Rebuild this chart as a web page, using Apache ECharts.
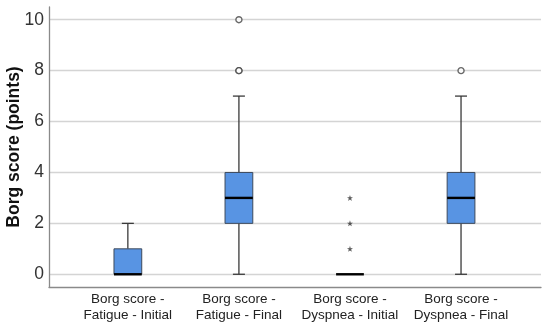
<!DOCTYPE html>
<html><head><meta charset="utf-8">
<script src="https://cdn.jsdelivr.net/npm/echarts@6/dist/echarts.min.js"></script>
<style>html,body{margin:0;padding:0;background:#fff}#c{width:550px;height:325px}</style>
</head><body><div id="c"></div>
<script>
const categories = ['Borg score -\nFatigue - Initial', 'Borg score -\nFatigue - Final', 'Borg score -\nDyspnea - Initial', 'Borg score -\nDyspnea - Final'];
// [min, Q1, median, Q3, max]
const boxValues = [
  [0, 0, 0, 1, 2],
  [0, 2, 3, 4, 7],
  [0, 0, 0, 0, 0],
  [0, 2, 3, 4, 7]
];
// outliers (circles): [categoryIndex, value]
const outliers = [[1, 8], [1, 8], [1, 10], [3, 8]];
// extremes (stars): [categoryIndex, value]
const extremes = [[2, 1], [2, 2], [2, 3]];
const yTicks = [0, 2, 4, 6, 8, 10];
const yTitle = 'Borg score (points)';

const chart = echarts.init(document.getElementById('c'), null, {renderer: 'canvas'});
const boxData = boxValues.map((v, i) => [i].concat(v));
const starPath = 'path://M50,0 L61.8,35.3 L97.6,34.5 L69,56 L79.4,90.5 L50,70 L20.6,90.5 L31,56 L2.4,34.5 L38.2,35.3 Z';

function renderBox(params, api) {
  const x = api.value(0);
  const mn = api.value(1), q1 = api.value(2), md = api.value(3), q3 = api.value(4), mx = api.value(5);
  const unit = api.size([1, 0])[0];
  const bw = unit * 0.25;
  const cw = 12;
  const c = api.coord([x, 0])[0];
  const y = v => api.coord([x, v])[1];
  const children = [];
  const wStyle = {stroke: '#3a3a3a', lineWidth: 1.3};
  if (mx > q3) {
    children.push({type: 'line', shape: {x1: c, y1: y(q3), x2: c, y2: y(mx)}, style: wStyle});
    children.push({type: 'line', shape: {x1: c - cw / 2, y1: y(mx), x2: c + cw / 2, y2: y(mx)}, style: wStyle});
  }
  if (mn < q1) {
    children.push({type: 'line', shape: {x1: c, y1: y(q1), x2: c, y2: y(mn)}, style: wStyle});
    children.push({type: 'line', shape: {x1: c - cw / 2, y1: y(mn), x2: c + cw / 2, y2: y(mn)}, style: wStyle});
  }
  if (q3 > q1) {
    children.push({type: 'rect', shape: {x: c - bw / 2, y: y(q3), width: bw, height: y(q1) - y(q3)},
      style: {fill: '#5894e3', stroke: '#3d4a5c', lineWidth: 1}});
  }
  children.push({type: 'line', shape: {x1: c - bw / 2, y1: y(md), x2: c + bw / 2, y2: y(md)},
    style: {stroke: '#000', lineWidth: 2.4}});
  return {type: 'group', children: children};
}

chart.setOption({
  animation: false,
  grid: {left: 49, right: 9, top: 7, bottom: 38, outerBoundsMode: 'none', containLabel: false},
  xAxis: {
    type: 'value', min: -0.71, max: 3.72,
    axisLine: {show: true, onZero: false, lineStyle: {color: '#8a8a8a', width: 1.3}},
    axisTick: {show: false},
    splitLine: {show: false},
    axisLabel: {
      customValues: [0, 1, 2, 3],
      formatter: v => categories[Math.round(v)] || '',
      fontFamily: 'Liberation Sans, Arial, sans-serif', fontSize: 13.5, color: '#222',
      lineHeight: 15.5, margin: 5
    }
  },
  yAxis: {
    type: 'value', min: -0.5, max: 10.5,
    name: yTitle, nameLocation: 'middle', nameGap: 26, nameMoveOverlap: false,
    nameTextStyle: {fontFamily: 'Liberation Sans, Arial, sans-serif', fontSize: 17.5, fontWeight: 'bold', color: '#111'},
    axisLine: {show: true, onZero: false, lineStyle: {color: '#8a8a8a', width: 1.3}},
    axisTick: {show: false, customValues: yTicks},
    axisLabel: {customValues: yTicks, fontFamily: 'Liberation Sans, Arial, sans-serif', fontSize: 17.5, color: '#333', margin: 5},
    splitLine: {show: true, lineStyle: {color: '#d4d4d4', width: 1.3}}
  },
  series: [
    {type: 'custom', renderItem: renderBox, data: boxData, encode: {x: 0, y: [1, 2, 3, 4, 5]}, z: 3},
    {type: 'scatter', data: outliers, symbol: 'circle', symbolSize: 6,
      itemStyle: {color: '#fff', borderColor: '#444', borderWidth: 1.4}, z: 4},
    {type: 'scatter', data: extremes, symbol: starPath, symbolSize: 6,
      itemStyle: {color: '#333'}, z: 4}
  ]
});
</script></body></html>
